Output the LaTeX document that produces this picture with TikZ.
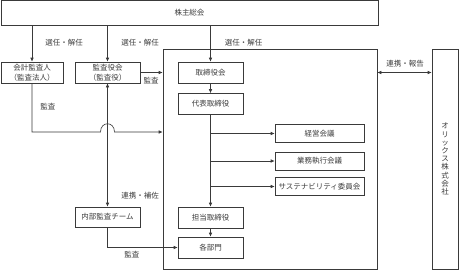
\documentclass[tikz,border=0pt]{standalone}
\usepackage{fontspec}
\setmainfont{Noto Sans CJK JP}
\usetikzlibrary{arrows.meta,positioning,calc}
\definecolor{ink}{HTML}{3A3A3A}

\begin{document}
\begin{tikzpicture}[x=1pt,y=-1pt,
  blk/.style={draw=ink,line width=0.6pt,inner sep=0pt,minimum height=21pt,
              font=\fontsize{7.5}{10}\selectfont,text=ink,align=center},
  flow/.style={-{Latex[length=4pt,width=3.6pt]},line width=0.6pt,draw=ink},
  biflow/.style={{Latex[length=4pt,width=3.6pt]}-{Latex[length=4pt,width=3.6pt]},line width=0.6pt,draw=ink},
  note/.style={font=\fontsize{7.5}{9}\selectfont,text=ink,inner sep=1pt}
]
\useasboundingbox (0,0) rectangle (459,271);
% boxes
\node[blk,minimum width=377pt,minimum height=24.5pt] (meeting) at (189.5,12.75) {株主総会};
\node[blk,minimum width=62pt] (auditor) at (32,72.5) {会計監査人\\（監査法人）};
\node[blk,minimum width=65pt] (auditboard) at (107.5,72.5) {監査役会\\（監査役）};
\node[blk,minimum width=65pt,minimum height=20pt] (internal) at (107.5,217) {内部監査チーム};
\node[blk,minimum width=214pt,minimum height=220pt] (exec) at (270,159) {};
\node[blk,minimum width=26pt,minimum height=220pt,font=\fontsize{7.5}{8.2}\selectfont] (orix) at (445,159)
  {オ\\リ\\ッ\\ク\\ス\\株\\式\\会\\社};
\node[blk,minimum width=65pt] (directors) at (210.5,72.5) {取締役会};
\node[blk,minimum width=65pt] (ceo) at (210.5,104) {代表取締役};
\node[blk,minimum width=89pt,minimum height=18pt] (mgmt) at (319.5,133.5) {経営会議};
\node[blk,minimum width=89pt,minimum height=18pt] (execmtg) at (319.5,161) {業務執行会議};
\node[blk,minimum width=89pt,minimum height=18pt] (sustain) at (319.5,186.5) {サステナビリティ委員会};
\node[blk,minimum width=65pt] (officers) at (210.5,217.5) {担当取締役};
\node[blk,minimum width=65pt] (divisions) at (210.5,247.5) {各部門};
% labels
\node[note] (elect1) at (64,43) {選任・解任};
\node[note] (elect2) at (140,43) {選任・解任};
\node[note] (elect3) at (243.5,43) {選任・解任};
\node[note] (audit1) at (48,107) {監査};
\node[note] (audit2) at (151,81) {監査};
\node[note] (audit3) at (132,255) {監査};
\node[note] (assist) at (140,196) {連携・補佐};
\node[note] (report) at (405,64) {連携・報告};
% connectors
\coordinate (hopL) at (100.5,132);
\coordinate (hopR) at (114.5,132);
\draw[flow] (meeting.south -| auditor) -- (auditor);
\draw[flow] (meeting.south -| auditboard) -- (auditboard);
\draw[flow] (meeting.south -| directors) -- (directors);
\draw[flow] (auditboard.east) -- (auditboard.east -| exec.west);
\draw[flow] (auditor.south) |- (hopL) .. controls (100.5,121) and (114.5,121) .. (hopR) -- (hopR -| exec.west);
\draw[biflow] (auditboard) -- (internal);
\draw[flow] (internal.south) |- (divisions.west);
\draw[flow] (directors) -- (ceo);
\draw[flow] (ceo) -- (officers);
\foreach \m in {mgmt,execmtg,sustain}
  \draw[flow] (ceo.south |- \m.west) -- (\m.west);
\draw[flow] (officers) -- (divisions);
\draw[biflow] (directors -| exec.east) -- (directors -| orix.west);
\end{tikzpicture}
\end{document}
